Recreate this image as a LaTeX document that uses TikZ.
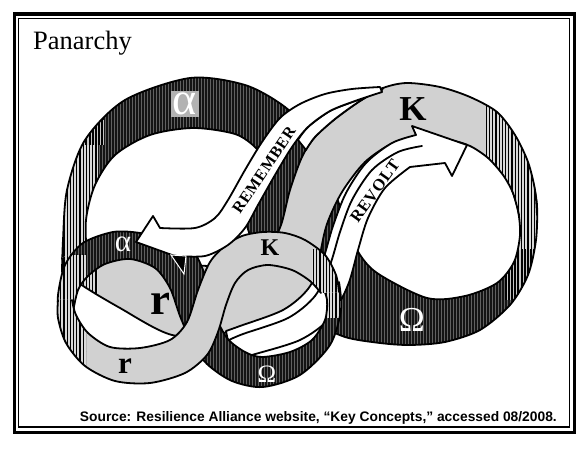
\documentclass[tikz,border=0pt]{standalone}
\usepackage{fontspec}
\setmainfont{Liberation Serif}
\newfontfamily\srcsans{Liberation Sans}
\newfontfamily\spacedserif[Kerning=Off,LetterSpace=4]{Liberation Serif}
\usetikzlibrary{patterns.meta}
\definecolor{lgray}{gray}{0.82}
\definecolor{dband}{gray}{0.08}
\tikzset{
  edge/.style={line width=1.8pt, line join=round, line cap=round},
  darkband/.style={fill=dband, postaction={pattern={Lines[angle=90,distance=3pt,line width=0.6pt]}, pattern color=black!62}},
  grayband/.style={fill=lgray},
  hatchlight/.style={fill=gray!30, postaction={pattern={Lines[angle=90,distance=3.2pt,line width=1.3pt]}, pattern color=black}},
  hatchmid/.style={fill=gray!45, postaction={pattern={Lines[angle=90,distance=3.2pt,line width=2.1pt]}, pattern color=black}},
  whiteface/.style={fill=white, draw=black, line width=1.8pt, line join=round},
  lbl/.style={inner sep=0pt},
}
\newcommand\mkedge[2]{%
  \expandafter\def\csname e#1\endcsname{plot[smooth] coordinates {#2}}%
  \expandafter\def\csname e#1l\endcsname{-- plot[smooth] coordinates {#2}}}
% big figure eight, dark part
\mkedge{DA}{(62,272) (63,240) (67,190) (85,140) (125,100) (190,78) (245,85) (285,107) (310,135) (330,180) (345,220) (357,250) (377,273) (427,298) (465,296) (497,283) (514,262) (520,235) (518,210) (512,190)}
\mkedge{DB}{(533,182) (537,205) (536,240) (528,275) (510,305) (480,330) (445,342) (410,345) (380,343) (345,337) (315,322) (292,300) (270,265) (250,235) (245,205) (257,180) (263,162) (256,148) (235,134) (193,128) (150,135) (115,155) (95,185) (86,220) (87,260)}
% big figure eight, gray part
\mkedge{GA}{(537,215) (535,190) (528,162) (515,135) (497,112) (470,97) (440,87) (407,83) (383,88) (360,101) (335,119) (315,137) (302,157) (290,190) (281,225) (268,250) (245,262) (210,266) (170,262) (130,255) (100,247) (88,245)}
\mkedge{GB}{(62,258) (75,280) (120,308) (172,335) (223,333) (262,325) (300,305) (316,282) (320,255) (327,224) (342,192) (365,162) (393,143) (420,136) (450,140) (470,146) (488,158) (503,175) (513,193) (519,215)}
% small figure eight, dark part
\mkedge{SDA}{(59,312) (58,295) (65,265) (83,243) (113,232) (140,233) (165,240) (192,250) (206,278) (214,312) (227,338) (245,352) (262,357) (290,352) (312,340) (325,320) (327,300) (322,285)}
\mkedge{SDB}{(339,282) (341,310) (330,345) (300,375) (263,387) (232,381) (207,364) (192,343) (180,316) (170,288) (155,268) (130,259) (105,264) (88,276) (78,290) (73,312)}
% small figure eight, gray part
\mkedge{SGA}{(339,292) (336,275) (325,255) (305,240) (285,233) (263,232) (242,236) (225,246) (210,262) (198,290) (187,322) (170,340) (140,348) (110,347) (88,333) (76,315) (72,300)}
\mkedge{SGB}{(58,300) (58,318) (66,343) (85,366) (115,381) (150,383) (185,373) (207,355) (218,332) (226,305) (235,283) (248,270) (268,265) (292,270) (310,281) (321,293)}
\begin{document}
\begin{tikzpicture}[x=1pt,y=-1pt]
\useasboundingbox (0,0) rectangle (587,449);
\fill[white] (0,0) rectangle (587,449);
% frame
\draw[line width=3.5pt] (14.5,14) rectangle (574.5,432.5);
\draw[line width=1.2pt] (18.5,18.5) rectangle (569.5,427);
\node[lbl, anchor=base west, font=\fontsize{26.5}{28}\selectfont] (title) at (33,50) {Panarchy};
\node[lbl, anchor=base east, font=\srcsans\bfseries\fontsize{13.8}{15}\selectfont] (source) at (557,421) {Source: Resilience Alliance website, “Key Concepts,” accessed 08/2008.};

% ---- big cycle: dark part
\fill[darkband] \eDA \eDBl -- cycle;
\begin{scope}
  \clip \eDA \eDBl -- cycle;
  \fill[hatchlight] (50,145) rectangle (98,300);
  \fill[hatchmid] (50,120) rectangle (104,145);
  \fill[hatchlight] (486,90) rectangle (545,250);
  \fill[hatchmid] (505,250) rectangle (545,300);
\end{scope}
\draw[edge] \eDA; \draw[edge] \eDB;
% ---- big cycle: gray part
\fill[grayband] \eGA \eGBl -- cycle;
\begin{scope}
  \clip \eGA \eGBl -- cycle;
  \fill[hatchlight] (50,145) rectangle (98,300);
  \fill[hatchlight] (486,90) rectangle (545,250);
\end{scope}
\draw[edge] \eGA; \draw[edge] \eGB;

% ---- REVOLT arrow
\path[whiteface] plot[smooth] coordinates {(226,331) (240,326) (283,310) (308,289) (323,259) (333,226) (346,193) (366,163) (392,143) (416,135)}
  -- (412,126) -- (467,145) -- (452,176) -- (445,163)
  -- plot[smooth] coordinates {(410,167) (385,188) (368,218) (358,250) (348,285) (330,318) (300,340) (252,355) (232,361)} -- cycle;
\draw[edge] plot[smooth] coordinates {(229,340) (243,334) (288,318) (315,296) (330,265) (340,232) (352,200) (372,170) (398,152) (422,146)};
\node[lbl, rotate=54.5, font=\spacedserif\bfseries\fontsize{16.5}{17}\selectfont] (revolt) at (375,191) {REVOLT};

% ---- small cycle: dark part
\fill[darkband] \eSDA \eSDBl -- cycle;
\begin{scope}
  \clip \eSDA \eSDBl -- cycle;
  \fill[hatchlight] (50,255) rectangle (86,372);
  \fill[hatchlight] (312,250) rectangle (345,318);
\end{scope}
\draw[edge] \eSDA; \draw[edge] \eSDB;
% ---- small cycle: gray part
\fill[grayband] \eSGA \eSGBl -- cycle;
\begin{scope}
  \clip \eSGA \eSGBl -- cycle;
  \fill[hatchlight] (50,255) rectangle (86,372);
  \fill[hatchlight] (312,250) rectangle (345,318);
\end{scope}
\draw[edge] \eSGA; \draw[edge] \eSGB;

% ---- REMEMBER arrow
\path[whiteface] plot[smooth] coordinates {(382,90) (355,101) (330,111) (308,127) (298,140)}
  -- plot[smooth] coordinates {(306,150) (315,137) (335,119) (360,101) (383,88)} -- cycle;
\path[whiteface] plot[smooth] coordinates {(380,87) (352,89) (325,94) (300,104) (280,118) (262,142) (245,170) (228,200) (215,218) (195,228) (160,228)}
  -- (153,216) -- (136,242) -- (172,255)
  -- plot[smooth] coordinates {(177,256) (205,256) (228,245) (245,228) (258,205) (275,175) (292,147) (308,127) (330,111) (355,101) (382,92)} -- cycle;
\path[fill=black, draw=white, line width=1pt] (171,255) -- (184,274) -- (186,256) -- cycle;
\node[lbl, rotate=56, font=\spacedserif\bfseries\fontsize{16}{17}\selectfont] (remember) at (264,170) {REMEMBER};

% ---- phase labels
\node[lbl, fill=gray!60, inner sep=2pt, text=white, font=\fontsize{46}{46}\selectfont] (abig) at (185,104) {α};
\node[lbl, font=\bfseries\fontsize{35}{35}\selectfont] (kbig) at (413,109) {K};
\node[lbl, text=white, font=\fontsize{35}{35}\selectfont] (obig) at (412,320) {Ω};
\node[lbl, font=\bfseries\fontsize{45}{45}\selectfont] (rbig) at (160,304) {r};
\node[lbl, text=white, font=\fontsize{31}{31}\selectfont] (asmall) at (123,244) {α};
\node[lbl, font=\bfseries\fontsize{31}{31}\selectfont] (rsmall) at (125,366) {r};
\node[lbl, font=\bfseries\fontsize{24}{24}\selectfont] (ksmall) at (270,248) {K};
\node[lbl, text=white, font=\fontsize{25}{25}\selectfont] (osmall) at (267,374) {Ω};
\end{tikzpicture}
\end{document}
